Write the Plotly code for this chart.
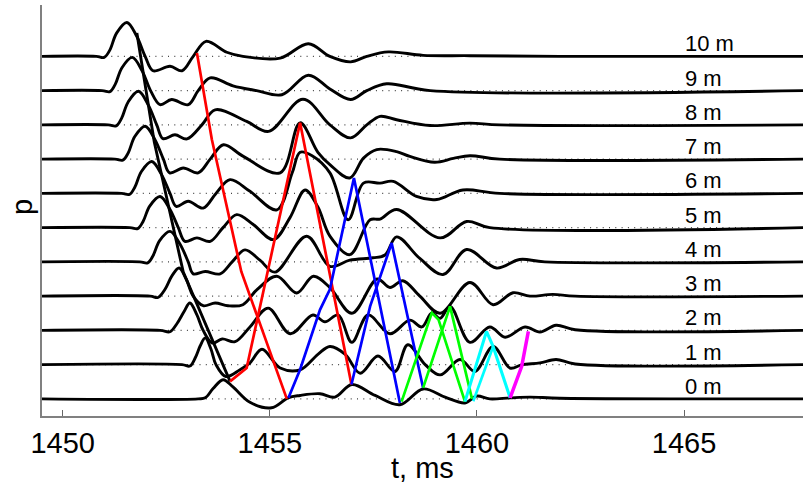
import plotly.graph_objects as go

# ---------------- data ----------------
depths = [0, 1, 2, 3, 4, 5, 6, 7, 8, 9, 10]
depth_labels = ["0 m", "1 m", "2 m", "3 m", "4 m", "5 m", "6 m", "7 m", "8 m", "9 m", "10 m"]
tick_vals = [1450, 1455, 1460, 1465]

# time samples (ms) and pressure (in trace-spacing units) for each depth
t10 = [1449.5, 1450.81, 1451.0, 1451.14, 1451.30, 1451.55, 1451.79, 1451.99, 1452.18, 1452.59, 1452.88, 1453.15, 1453.46, 1453.96, 1454.35, 1455.25, 1455.93, 1456.45, 1456.95, 1457.34, 1457.86, 1458.70, 1459.83, 1462.0, 1467.9]
p10 = [0, 0, -0.03, 0.19, 0.68, 0.99, 0.58, 0, -0.42, -0.29, -0.42, 0, 0.44, 0.12, 0, -0.05, 0.37, 0, -0.16, 0, 0.13, 0.03, 0.02, 0, 0]

t9 = [1449.5, 1450.95, 1451.14, 1451.27, 1451.43, 1451.68, 1451.92, 1452.12, 1452.35, 1452.63, 1453.03, 1453.27, 1453.56, 1454.11, 1454.68, 1455.29, 1455.93, 1456.45, 1456.95, 1457.34, 1457.82, 1458.87, 1467.9]
p9 = [0, 0, -0.03, 0.19, 0.67, 0.97, 0.57, 0, -0.41, -0.26, -0.41, 0, 0.37, 0.14, 0, -0.12, 0.45, 0.05, -0.26, 0, 0.2, 0, 0]

t8 = [1449.5, 1451.10, 1451.29, 1451.42, 1451.58, 1451.83, 1452.07, 1452.27, 1452.42, 1452.71, 1453.00, 1453.36, 1453.68, 1454.44, 1454.97, 1455.80, 1456.45, 1456.95, 1457.34, 1457.66, 1458.06, 1458.87, 1459.83, 1460.55, 1467.9]
p8 = [0, 0, -0.03, 0.19, 0.67, 0.98, 0.57, 0, -0.40, -0.29, -0.41, 0, 0.44, 0.1, -0.19, 0.75, 0, -0.38, 0, 0.25, 0.15, -0.02, 0.05, 0, 0]

t7 = [1449.5, 1451.26, 1451.45, 1451.58, 1451.74, 1451.99, 1452.23, 1452.43, 1452.58, 1452.91, 1453.27, 1453.56, 1453.88, 1454.36, 1455.25, 1455.73, 1456.16, 1456.45, 1456.93, 1457.26, 1457.58, 1458.06, 1458.38, 1458.98, 1459.43, 1459.83, 1460.55, 1467.9]
p7 = [0, 0, -0.03, 0.18, 0.66, 0.96, 0.56, 0, -0.40, -0.26, -0.40, 0, 0.42, 0.08, -0.40, 1.06, 0.2, -0.16, -0.55, 0.03, 0.28, 0.22, 0.08, -0.09, 0.02, 0.1, 0, 0]

t6 = [1449.5, 1451.42, 1451.61, 1451.74, 1451.90, 1452.15, 1452.39, 1452.59, 1452.74, 1453.03, 1453.39, 1453.70, 1454.04, 1454.52, 1455.17, 1455.54, 1455.73, 1456.02, 1456.45, 1456.89, 1457.26, 1457.66, 1457.98, 1458.54, 1459.03, 1459.66, 1460.55, 1467.9]
p6 = [0, 0, -0.03, 0.18, 0.64, 0.93, 0.54, 0, -0.38, -0.23, -0.43, 0, 0.40, 0.06, -0.48, 0.6, 1.2, 1.1, 0.6, -0.77, 0.3, 0.3, 0.35, -0.09, -0.18, 0.1, 0, 0]

t5 = [1449.5, 1451.62, 1451.81, 1451.94, 1452.10, 1452.35, 1452.59, 1452.79, 1452.95, 1453.24, 1453.56, 1453.87, 1454.20, 1454.60, 1455.09, 1455.49, 1455.85, 1456.16, 1456.45, 1456.93, 1457.42, 1457.66, 1458.06, 1459.11, 1459.75, 1460.31, 1467.9]
p5 = [0, 0, -0.03, 0.18, 0.63, 0.91, 0.53, 0, -0.40, -0.30, -0.40, 0, 0.38, 0.09, -0.35, 0.3, 1.1, 0.6, -0.25, -0.79, 0.23, 0.25, 0.53, -0.3, 0.18, 0, 0]

t4 = [1449.5, 1451.86, 1452.05, 1452.18, 1452.34, 1452.59, 1452.83, 1453.03, 1453.15, 1453.44, 1453.80, 1454.09, 1454.40, 1454.76, 1455.12, 1455.89, 1456.45, 1456.93, 1457.49, 1457.78, 1458.06, 1458.62, 1459.18, 1459.75, 1460.47, 1461.03, 1461.64, 1467.9]
p4 = [0, 0, -0.03, 0.18, 0.62, 0.89, 0.52, 0, -0.35, -0.28, -0.35, 0, 0.35, 0.05, -0.3, 0.75, -0.13, 0.05, 0.12, 0.2, 0.73, 0.1, -0.37, 0.36, -0.18, 0.07, 0, 0]

t3 = [1449.5, 1452.11, 1452.30, 1452.47, 1452.64, 1452.81, 1452.98, 1453.15, 1453.39, 1453.68, 1453.99, 1454.35, 1454.69, 1455.17, 1455.65, 1456.05, 1456.45, 1456.98, 1457.59, 1457.90, 1458.21, 1458.62, 1459.11, 1459.83, 1460.39, 1460.87, 1461.28, 1461.83, 1462.37, 1467.9]
p3 = [0, 0, -0.04, 0.2, 0.6, 0.82, 0.5, 0, -0.28, -0.2, -0.28, -0.25, 0.19, 0.58, 0.09, 0.58, 0.25, -0.5, 0.5, 0.25, 0.45, 0.0, -0.5, 0.4, -0.25, 0.1, 0.0, 0.05, 0, 0]

t2 = [1449.5, 1452.35, 1452.59, 1452.76, 1452.93, 1453.07, 1453.24, 1453.39, 1453.61, 1453.85, 1454.16, 1454.52, 1454.96, 1455.49, 1456.04, 1456.33, 1456.65, 1456.98, 1457.37, 1457.90, 1458.38, 1458.67, 1458.91, 1459.11, 1459.35, 1459.83, 1460.31, 1460.68, 1461.16, 1461.52, 1461.91, 1462.37, 1467.9]
p2 = [0, 0, -0.04, 0.2, 0.55, 0.80, 0.45, 0, -0.37, -0.25, -0.33, 0.1, 0.65, -0.1, 0.45, 0.25, 0.45, -0.35, 0.45, -0.1, 0.3, 0.1, 0.51, 0.35, 0.70, -0.35, 0.1, -0.2, 0.1, -0.05, 0.15, 0.02, 0]

t1 = [1449.5, 1452.88, 1453.07, 1453.20, 1453.32, 1453.44, 1453.58, 1453.70, 1453.94, 1454.28, 1454.52, 1454.81, 1455.25, 1455.73, 1456.16, 1456.45, 1456.82, 1457.18, 1457.61, 1458.02, 1458.33, 1458.75, 1459.11, 1459.59, 1459.95, 1460.39, 1460.80, 1461.09, 1461.52, 1461.91, 1462.37, 1467.9]
p1 = [0, 0, -0.04, 0.2, 0.55, 0.78, 0.45, 0, -0.35, -0.15, 0.05, 0.45, -0.1, -0.15, 0.3, 0.53, 0.3, -0.25, 0.25, -0.2, 0.58, 0.0, -0.3, 0.15, -0.2, 0.53, -0.1, 0.0, 0.05, 0.15, 0.02, 0]

t0 = [1449.5, 1453.27, 1453.44, 1453.63, 1453.87, 1454.11, 1454.52, 1455.04, 1455.44, 1455.73, 1456.21, 1456.57, 1456.98, 1457.54, 1458.14, 1458.70, 1459.23, 1459.71, 1459.99, 1460.31, 1460.80, 1461.28, 1462.00, 1467.9]
p0 = [0, 0, 0.03, 0.3, 0.56, 0.35, -0.1, -0.26, 0.03, 0.1, 0.15, 0.05, 0.42, 0.1, -0.17, 0.29, 0.05, -0.12, 0.08, 0.0, 0.03, 0.05, 0.02, 0]

trace_t = [t0, t1, t2, t3, t4, t5, t6, t7, t8, t9, t10]
trace_p = [p0, p1, p2, p3, p4, p5, p6, p7, p8, p9, p10]

# colored path lines: (time ms, level in depth units)
black_t = [1451.79, 1452.21, 1452.91, 1454.04]
black_y = [10.68, 7.5, 3.7, 0.51]
red1_t = [1453.24, 1453.60, 1454.31, 1455.41]
red1_y = [10.10, 7.57, 3.72, 0.0]
red2_t = [1454.04, 1454.44, 1455.73, 1456.97]
red2_y = [0.51, 0.90, 8.06, 0.42]
blue1_t = [1455.45, 1455.73, 1456.21, 1456.45, 1457.03, 1458.14]
blue1_y = [0.03, 0.86, 2.6, 3.2, 6.45, -0.12]
blue2_t = [1456.97, 1457.42, 1457.94, 1458.70]
blue2_y = [0.42, 2.7, 4.55, 0.32]
green1_t = [1458.18, 1458.91, 1459.07, 1459.71]
green1_y = [-0.08, 2.51, 2.32, -0.08]
green2_t = [1458.70, 1459.35, 1459.88]
green2_y = [0.32, 2.70, 0.0]
cyan1_t = [1459.71, 1460.23, 1460.39, 1460.80]
cyan1_y = [-0.08, 1.97, 1.53, 0.03]
cyan2_t = [1459.91, 1460.39]
cyan2_y = [-0.07, 1.53]
magenta_t = [1460.80, 1461.08, 1461.24]
magenta_y = [0.03, 0.95, 1.97]

label_t = 1465.0

# ---------------- figure ----------------
FONT = "Liberation Sans, Arial, Helvetica, sans-serif"
fig = go.Figure()

x_min, x_max = 1449.5, 1467.87

for d in depths:
    fig.add_trace(go.Scatter(x=[x_min, x_max], y=[d, d], mode="lines",
                             line=dict(color="#444444", width=1.2, dash="1px,5.3px"),
                             hoverinfo="skip", showlegend=False))

for d, tt, pp in zip(depths, trace_t, trace_p):
    fig.add_trace(go.Scatter(x=tt, y=[d + v for v in pp], mode="lines",
                             line=dict(color="black", width=2.9, shape="spline", smoothing=1.0),
                             showlegend=False))

paths = [
    (black_t, black_y, "black", 2.9),
    (red1_t, red1_y, "#ff0000", 2.7),
    (red2_t, red2_y, "#ff0000", 2.7),
    (blue1_t, blue1_y, "#0000ff", 2.7),
    (blue2_t, blue2_y, "#0000ff", 2.7),
    (green1_t, green1_y, "#00ff00", 2.7),
    (green2_t, green2_y, "#00ff00", 2.7),
    (cyan1_t, cyan1_y, "#00ffff", 3.1),
    (cyan2_t, cyan2_y, "#00ffff", 2.7),
    (magenta_t, magenta_y, "#ff00ff", 3.5),
]
for xs, ys, col, w in paths:
    fig.add_trace(go.Scatter(x=xs, y=ys, mode="lines", line=dict(color=col, width=w),
                             showlegend=False))

for d, lab in zip(depths, depth_labels):
    fig.add_annotation(x=label_t, y=d, text=lab, showarrow=False, xanchor="left",
                       yanchor="bottom", yshift=-2, xshift=-1,
                       font=dict(family=FONT, size=22, color="black"))

# axis titles as annotations placed where the reference has them
fig.add_annotation(xref="paper", yref="paper", x=0.4994, y=-0.1265, text="t, ms",
                   showarrow=False, xanchor="center", yanchor="middle",
                   font=dict(family=FONT, size=29, color="black"))
fig.add_annotation(xref="paper", yref="paper", x=-0.0263, y=0.5085, text="p", textangle=-90,
                   showarrow=False, xanchor="center", yanchor="middle",
                   font=dict(family=FONT, size=29, color="black"))

fig.update_layout(
    width=803, height=484,
    margin=dict(l=42, r=0, t=5, b=68),
    paper_bgcolor="white", plot_bgcolor="white",
    font=dict(family=FONT, color="black"),
    xaxis=dict(range=[x_min, x_max], tickvals=tick_vals,
               ticks="inside", ticklen=6, tickwidth=1, tickcolor="#666666",
               showgrid=False, zeroline=False,
               showline=True, linecolor="#808080", linewidth=1.5,
               tickfont=dict(family=FONT, size=29, color="black")),
    yaxis=dict(range=[-0.5, 11.5], showticklabels=False, ticks="", showgrid=False,
               zeroline=False, showline=True, linecolor="#808080", linewidth=1.5),
)

fig.write_html("out.html", config={"displayModeBar": False},
               post_script="document.body.style.margin='0';document.body.style.overflow='hidden';")
